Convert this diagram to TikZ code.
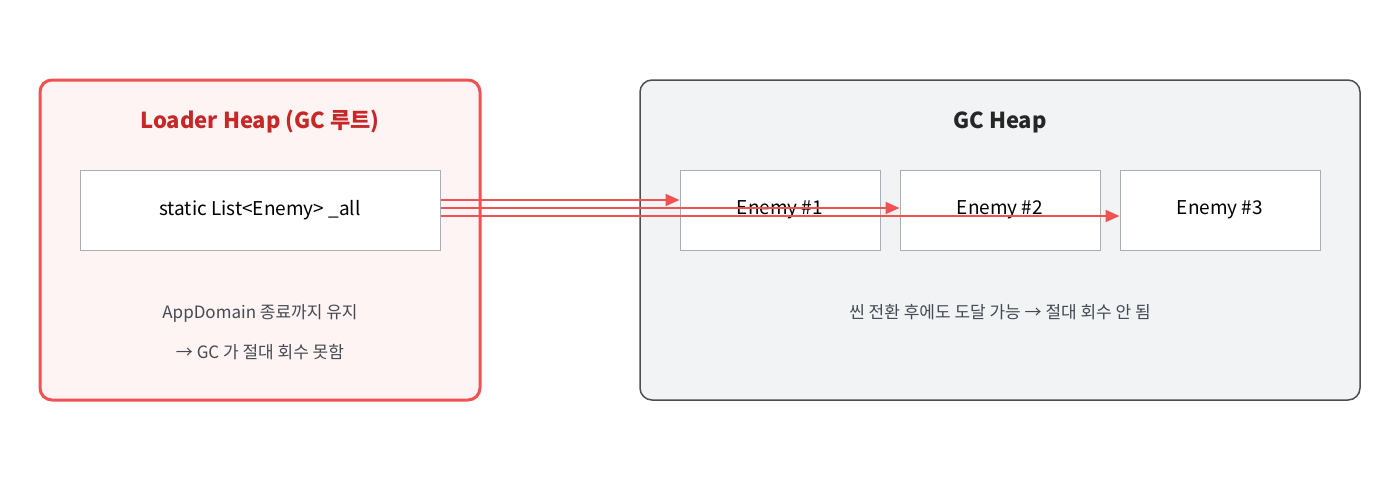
\documentclass[tikz,border=0pt]{standalone}
\usepackage{fontspec}
\setmainfont{Noto Sans CJK KR}
\usetikzlibrary{positioning,arrows.meta}
\definecolor{heapred}{HTML}{F05252}
\definecolor{titlered}{HTML}{C62828}
\definecolor{pinkfill}{HTML}{FFF4F4}
\definecolor{grayfill}{HTML}{F1F3F5}
\definecolor{grayline}{HTML}{4A4F55}
\definecolor{cellline}{HTML}{A8AEB5}
\definecolor{textgray}{HTML}{444A52}
\tikzset{
  heap/.style={draw, rounded corners=12pt, minimum height=320pt},
  cell/.style={draw=cellline, fill=white, line width=1pt, minimum height=80pt, font=\fontsize{19}{22}\selectfont},
  heaptitle/.style={font=\fontsize{22}{26}\selectfont\bfseries},
  note/.style={text=textgray, font=\fontsize{17}{40}\selectfont, align=center},
  ref/.style={heapred, line width=2pt, -{Triangle[length=14pt,width=12pt]}}
}
\begin{document}
\begin{tikzpicture}[x=1pt,y=-1pt]
  \useasboundingbox (0,0) rectangle (1400,480);
  % Loader heap
  \node[heap, draw=heapred, fill=pinkfill, line width=3pt, minimum width=440pt] (loader) at (260,240) {};
  \node[heaptitle, text=titlered] (ltitle) at (260,122) {Loader Heap (GC 루트)};
  \node[cell, minimum width=360pt] (list) at (260,210) {static List<Enemy> \_all};
  \node[note] (lnote) at (260,332) {AppDomain 종료까지 유지\\→ GC 가 절대 회수 못함};
  % GC heap
  \node[heap, draw=grayline, fill=grayfill, line width=1.5pt, minimum width=720pt] (gc) at (1000,240) {};
  \node[heaptitle, text=black!85] (gtitle) at (1000,122) {GC Heap};
  \foreach \i/\x in {1/780,2/1000,3/1220}
    \node[cell, minimum width=200pt] (e\i) at (\x,210) {Enemy \#\i};
  \node[note] (gnote) at (1000,312) {씬 전환 후에도 도달 가능 → 절대 회수 안 됨};
  % references
  \draw[ref] ([yshift=10pt]list.east) -- ([yshift=10pt]e1.west);
  \draw[ref] ([yshift=2pt]list.east) -- ([yshift=2pt]e2.west);
  \draw[ref] ([yshift=-6pt]list.east) -- ([yshift=-6pt]e3.west);
\end{tikzpicture}
\end{document}
